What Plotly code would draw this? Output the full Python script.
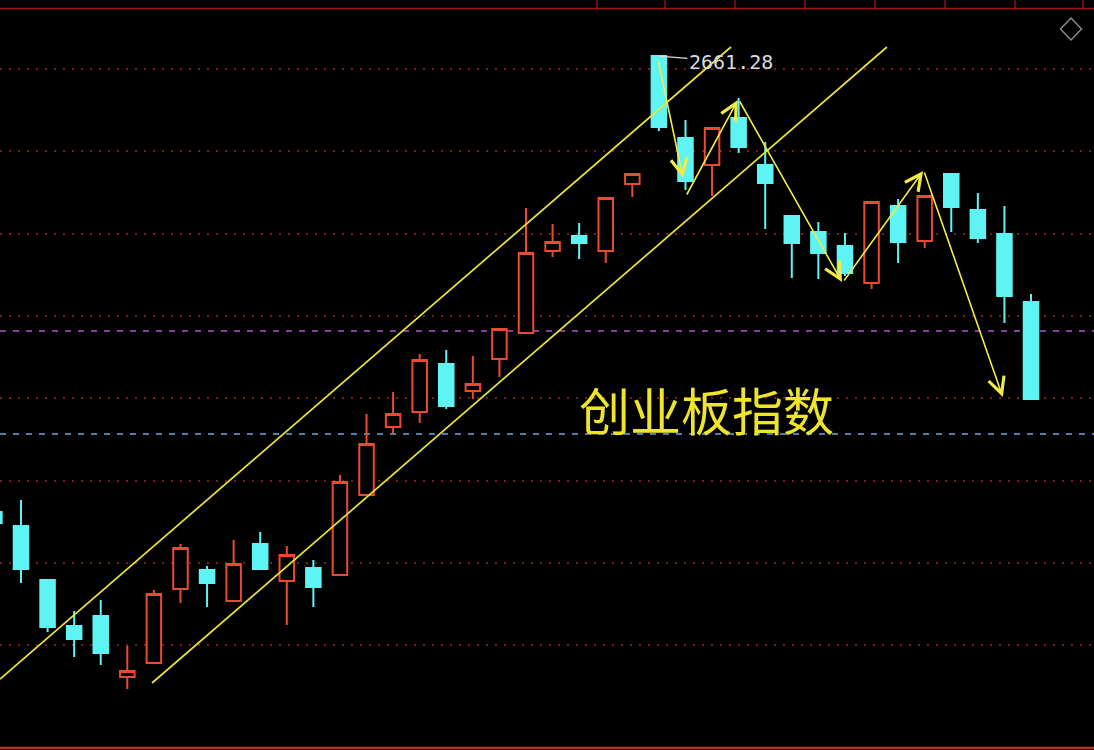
import plotly.graph_objects as go

# ---------------- data ----------------
day_index = list(range(40))
opens = [2433.3, 2426.3, 2399.3, 2376.3, 2381.3, 2350.8, 2357.8, 2394.8, 2404.3, 2388.8,
         2417.3, 2398.8, 2405.3, 2401.8, 2441.8, 2475.8, 2483.3, 2507.3, 2493.8, 2509.8,
         2522.8, 2563.8, 2571.3, 2563.8, 2597.3, 2661.28, 2620.3, 2606.8, 2630.3, 2606.8,
         2581.3, 2573.3, 2566.3, 2547.8, 2586.3, 2568.8, 2602.3, 2584.3, 2572.3, 2538.3]
highs = [2436.8, 2439.3, 2399.3, 2383.8, 2389.3, 2366.3, 2394.3, 2417.3, 2406.3, 2419.3,
         2423.3, 2416.3, 2409.3, 2451.8, 2482.3, 2493.3, 2512.3, 2514.3, 2511.3, 2524.8,
         2585.3, 2577.3, 2577.8, 2590.3, 2602.8, 2661.28, 2629.3, 2625.3, 2640.3, 2618.3,
         2581.3, 2578.3, 2572.8, 2588.3, 2589.8, 2591.3, 2602.3, 2592.8, 2586.3, 2542.3]
lows = [2425.3, 2397.8, 2373.3, 2360.8, 2356.8, 2344.8, 2357.8, 2387.8, 2385.8, 2388.8,
        2404.8, 2376.8, 2385.8, 2401.8, 2441.8, 2472.3, 2477.8, 2484.8, 2489.8, 2500.8,
        2522.8, 2560.8, 2559.8, 2557.8, 2590.8, 2623.8, 2594.3, 2591.3, 2612.8, 2574.8,
        2550.3, 2549.8, 2551.3, 2544.8, 2557.8, 2565.3, 2573.3, 2567.8, 2527.8, 2489.8]
closes = [2427.8, 2404.8, 2375.8, 2369.8, 2362.8, 2353.8, 2392.3, 2415.3, 2397.8, 2407.3,
          2404.8, 2411.8, 2395.8, 2448.3, 2467.3, 2482.3, 2509.3, 2486.3, 2497.3, 2524.8,
          2562.8, 2568.3, 2567.8, 2590.3, 2602.3, 2625.8, 2598.8, 2625.3, 2615.8, 2597.8,
          2567.8, 2562.8, 2552.8, 2588.3, 2568.3, 2591.3, 2585.8, 2570.3, 2541.3, 2489.8]

grid_levels = [2654.8, 2613.65, 2572.5, 2531.35, 2490.2, 2449.05, 2407.9, 2366.75]
ref_magenta = 2523.8
ref_blue = 2472.3

peak_day = 25
peak_value = 2661.28
peak_label = "2661.28"
title_text = "创业板指数"

# trend channel (day index, value)
upper_channel = [(0.21, 2349.8), (27.71, 2665.8)]
lower_channel = [(5.93, 2347.8), (33.58, 2665.8)]

# zigzag arrows: (tail day, tail value, head day, head value)
zigzag = [
    (24.97, 2659.3, 25.91, 2600.3),
    (26.02, 2591.3, 27.97, 2639.3),
    (28.01, 2639.3, 31.89, 2548.3),
    (31.93, 2548.3, 34.94, 2603.8),
    (34.97, 2603.8, 37.94, 2490.8),
]

# ---------------- styling ----------------
RED = "#EB4A30"
CYAN = "#5EF4F4"
YELLOW = "#ECE43A"
W, H = 1094, 750

fig = go.Figure()
fig.add_trace(go.Candlestick(
    x=day_index, open=opens, high=highs, low=lows, close=closes,
    increasing=dict(line=dict(color=RED, width=2), fillcolor="rgba(0,0,0,1)"),
    decreasing=dict(line=dict(color=CYAN, width=2), fillcolor=CYAN),
    whiskerwidth=0, hoverinfo="skip", showlegend=False,
))

shapes = []
# reference dashed lines
shapes.append(dict(type="line", xref="paper", x0=0, x1=1, yref="y", y0=ref_magenta, y1=ref_magenta,
                   line=dict(color="#B452CC", width=1.6, dash="6px,7px"), layer="below"))
shapes.append(dict(type="line", xref="paper", x0=0, x1=1, yref="y", y0=ref_blue, y1=ref_blue,
                   line=dict(color="#6FA6E6", width=1.6, dash="6px,7px"), layer="below"))
# channel lines
for (x0, y0), (x1, y1) in (upper_channel, lower_channel):
    shapes.append(dict(type="line", xref="x", yref="y", x0=x0, y0=y0, x1=x1, y1=y1,
                       line=dict(color=YELLOW, width=1.7), layer="above"))
# frame lines
top_y = 1 - 8.5 / H
shapes.append(dict(type="line", xref="paper", yref="paper", x0=0, x1=1, y0=top_y, y1=top_y,
                   line=dict(color="#A3141A", width=1.5)))
shapes.append(dict(type="line", xref="paper", yref="paper", x0=0, x1=1, y0=1 - 748 / H, y1=1 - 748 / H,
                   line=dict(color="#B5341E", width=2.5)))
for px in (597, 665, 735, 805, 875, 945, 1015, 1083):
    shapes.append(dict(type="line", xref="paper", yref="paper", x0=px / W, x1=px / W, y0=top_y, y1=1,
                       line=dict(color="#A3141A", width=1.3)))
# diamond icon
cx, cy, rx, ry = 1071 / W, 1 - 29 / H, 10.5 / W, 11 / H
shapes.append(dict(type="path", xref="paper", yref="paper",
                   path=f"M {cx},{cy + ry} L {cx + rx},{cy} L {cx},{cy - ry} L {cx - rx},{cy} Z",
                   line=dict(color="#8A8A8A", width=1.5)))

annotations = []
for tx, ty, hx, hy in zigzag:
    annotations.append(dict(x=hx, y=hy, ax=tx, ay=ty, xref="x", yref="y", axref="x", ayref="y",
                            text="", showarrow=True, arrowhead=5, arrowsize=2.0, arrowwidth=1.6,
                            arrowcolor="#F2EA48"))
annotations.append(dict(x=peak_day, y=peak_value, xref="x", yref="y", text=peak_label,
                        showarrow=True, ax=72, ay=6, arrowhead=0, arrowwidth=1.2, arrowcolor="#D8D8D8",
                        font=dict(family="DejaVu Sans Mono", size=20, color="#D9D9D9")))
annotations.append(dict(x=706 / W, y=1 - 409 / H, xref="paper", yref="paper", text=title_text,
                        showarrow=False, font=dict(family="Noto Sans CJK SC", size=51, color="#EEE52A")))

fig.update_layout(
    width=W, height=H, margin=dict(l=0, r=0, t=0, b=0),
    paper_bgcolor="black", plot_bgcolor="black",
    boxgap=0.22,
    xaxis=dict(range=[0.21, 41.37], showgrid=False, zeroline=False, showticklabels=False,
               rangeslider=dict(visible=False), showline=False, ticks=""),
    yaxis=dict(range=[2314.3, 2689.3], tickvals=grid_levels, showticklabels=False, ticks="",
               showgrid=True, gridcolor="#7A1E18", griddash="2px,7px", gridwidth=1.5, zeroline=False),
    shapes=shapes, annotations=annotations,
)

fig.write_html("out.html", config={"displayModeBar": False},
               post_script="document.body.style.margin='0';document.body.style.background='black';")
